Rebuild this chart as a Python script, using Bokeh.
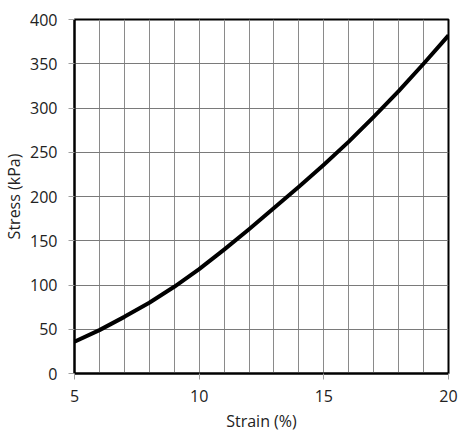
from bokeh.plotting import figure
from bokeh.models import FixedTicker, Range1d
from bokeh.embed import file_html
from bokeh.resources import INLINE

strain = [5, 6, 7, 8, 9, 10, 11, 12, 13, 14, 15, 16, 17, 18, 19, 20]
stress = [36, 49, 64, 80, 98, 118, 140, 163, 187, 211, 236, 262, 290, 319, 350, 382]
x_ticks = [5, 10, 15, 20]
x_minor = list(range(5, 21))
y_ticks = [0, 50, 100, 150, 200, 250, 300, 350, 400]

FONT = "Open Sans"
TEXT = "#222222"

p = figure(width=459, height=437, output_backend="svg", toolbar_location=None,
           x_range=Range1d(5, 20), y_range=Range1d(0, 400),
           min_border_left=72, min_border_top=19, min_border_right=11, min_border_bottom=64)
p.background_fill_color = "white"
p.border_fill_color = "white"
p.outline_line_color = "black"
p.outline_line_width = 2

p.xaxis.ticker = FixedTicker(ticks=x_ticks, minor_ticks=x_minor)
p.yaxis.ticker = FixedTicker(ticks=y_ticks)

for ax in (p.xaxis[0], p.yaxis[0]):
    ax.axis_line_color = "black"
    ax.axis_line_width = 2
    ax.major_tick_line_color = "#a0a0a0"
    ax.major_tick_line_width = 1
    ax.major_tick_out = 6
    ax.major_tick_in = 0
    ax.minor_tick_line_color = None
    ax.major_label_text_font = FONT
    ax.major_label_text_font_size = "16px"
    ax.major_label_text_color = TEXT
    ax.axis_label_text_font = FONT
    ax.axis_label_text_font_size = "16px"
    ax.axis_label_text_font_style = "normal"
    ax.axis_label_text_color = TEXT

p.xaxis.axis_label = "Strain (%)"
p.yaxis.axis_label = "Stress (kPa)"
p.xaxis.major_label_standoff = 10
p.xaxis.axis_label_standoff = 5
p.yaxis.major_label_standoff = 11
p.yaxis.axis_label_standoff = 2

p.xgrid.grid_line_color = "#8a8a8a"
p.xgrid.grid_line_width = 1
p.xgrid.minor_grid_line_color = "#8a8a8a"
p.xgrid.minor_grid_line_width = 1
p.ygrid.grid_line_color = "#7a7a7a"
p.ygrid.grid_line_width = 1

p.line(strain, stress, line_color="black", line_width=4, line_join="round")

open("out.html", "w").write(file_html(p, INLINE))
